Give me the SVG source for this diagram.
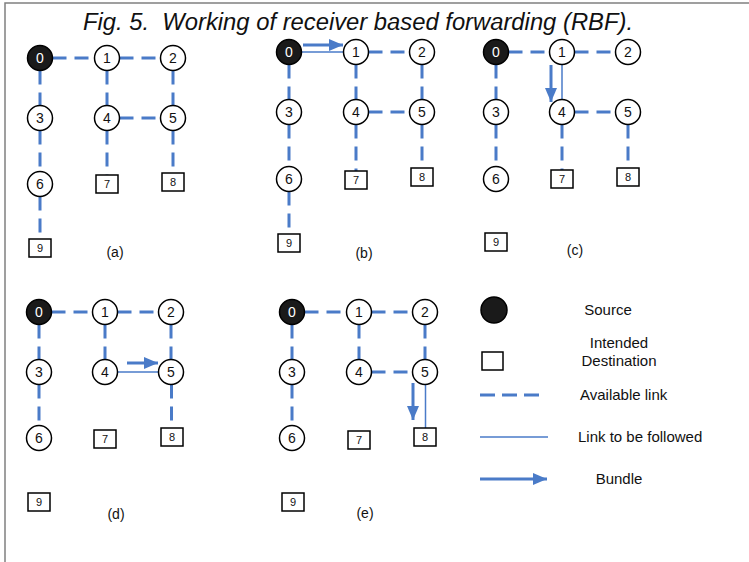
<svg xmlns="http://www.w3.org/2000/svg" width="749" height="562" viewBox="0 0 749 562">
<defs>
<marker id="ah" markerUnits="userSpaceOnUse" markerWidth="14" markerHeight="12" refX="14" refY="6" orient="auto">
<path d="M0,0 L14,6 L0,12 z" fill="#4a7bc8"/>
</marker>
<style>
text{font-family:"Liberation Sans",Arial,sans-serif;fill:#111}
.title{font-size:23px;font-style:italic}
.n circle{fill:#fff;stroke:#000;stroke-width:1.5}
.n text{font-size:14px;text-anchor:middle}
.src circle{fill:#1a1a1a}
.src text{fill:#fff}
.d rect{fill:#fff;stroke:#000;stroke-width:1.5}
.d text{font-size:11px;text-anchor:middle}
.cap{font-size:14px;text-anchor:middle}
.lg{font-size:15px}
.dash{stroke:#4a7bc8;stroke-width:3;stroke-dasharray:14 8;fill:none}
.follow{stroke:#4a7bc8;stroke-width:1.5;fill:none}
.bundle{stroke:#4a7bc8;stroke-width:3;fill:none;marker-end:url(#ah)}
</style>
</defs>
<rect width="749" height="562" fill="#fff"/>
<path d="M5,562 V3 H749" fill="none" stroke="#808080" stroke-width="1.5"/>
<text class="title" x="83" y="30" textLength="550" lengthAdjust="spacingAndGlyphs">Fig. 5.&#160; Working of receiver based forwarding (RBF).</text>

<g id="connectors">
<!-- panel a -->
<line class="dash" x1="52.5" y1="58" x2="94.5" y2="58"/>
<line class="dash" x1="119.5" y1="58" x2="160.5" y2="58"/>
<line class="dash" x1="40" y1="70.5" x2="40" y2="105.5"/>
<line class="dash" x1="40" y1="130.5" x2="40" y2="171.5"/>
<line class="dash" x1="40" y1="196.5" x2="40" y2="239"/>
<line class="dash" x1="107" y1="70.5" x2="107" y2="105.5"/>
<line class="dash" x1="173" y1="70.5" x2="173" y2="105.5"/>
<line class="dash" x1="119.5" y1="118" x2="160.5" y2="118"/>
<line class="dash" x1="107" y1="130.5" x2="107" y2="175"/>
<line class="dash" x1="173" y1="130.5" x2="173" y2="173"/>
<!-- panel b -->
<line class="follow" x1="301.5" y1="52" x2="343.5" y2="52"/>
<line class="bundle" x1="303" y1="45" x2="343" y2="45"/>
<line class="dash" x1="368.5" y1="52" x2="409.5" y2="52"/>
<line class="dash" x1="289" y1="64.5" x2="289" y2="99.5"/>
<line class="dash" x1="289" y1="124.5" x2="289" y2="166.5"/>
<line class="dash" x1="289" y1="191.5" x2="289" y2="234"/>
<line class="dash" x1="356" y1="64.5" x2="356" y2="99.5"/>
<line class="dash" x1="422" y1="64.5" x2="422" y2="99.5"/>
<line class="dash" x1="368.5" y1="112" x2="409.5" y2="112"/>
<line class="dash" x1="356" y1="124.5" x2="356" y2="171"/>
<line class="dash" x1="422" y1="124.5" x2="422" y2="168"/>
<!-- panel c -->
<line class="dash" x1="508.5" y1="52" x2="549.5" y2="52"/>
<line class="dash" x1="574.5" y1="52" x2="615.5" y2="52"/>
<line class="dash" x1="496" y1="64.5" x2="496" y2="99.5"/>
<line class="dash" x1="496" y1="124.5" x2="496" y2="166.5"/>
<line class="follow" x1="562" y1="64.5" x2="562" y2="99.5"/>
<line class="bundle" x1="551" y1="65" x2="551" y2="102"/>
<line class="dash" x1="574.5" y1="112" x2="615.5" y2="112"/>
<line class="dash" x1="562" y1="124.5" x2="562" y2="170"/>
<line class="dash" x1="628" y1="124.5" x2="628" y2="168"/>
<!-- panel d -->
<line class="dash" x1="51.5" y1="312" x2="92.5" y2="312"/>
<line class="dash" x1="117.5" y1="312" x2="158.5" y2="312"/>
<line class="dash" x1="39" y1="324.5" x2="39" y2="359.5"/>
<line class="dash" x1="39" y1="384.5" x2="39" y2="425.5"/>
<line class="dash" x1="105" y1="324.5" x2="105" y2="359.5"/>
<line class="dash" x1="171" y1="324.5" x2="171" y2="359.5"/>
<line class="follow" x1="117.5" y1="372" x2="158.5" y2="372"/>
<line class="bundle" x1="127" y1="363" x2="158" y2="363"/>
<line class="dash" x1="171.5" y1="384.5" x2="171.5" y2="428"/>
<!-- panel e -->
<line class="dash" x1="304.5" y1="312" x2="346.5" y2="312"/>
<line class="dash" x1="371.5" y1="312" x2="412.5" y2="312"/>
<line class="dash" x1="292" y1="324.5" x2="292" y2="359.5"/>
<line class="dash" x1="292" y1="384.5" x2="292" y2="425.5"/>
<line class="dash" x1="359" y1="324.5" x2="359" y2="359.5"/>
<line class="dash" x1="425" y1="324.5" x2="425" y2="359.5"/>
<line class="dash" x1="371.5" y1="372" x2="412.5" y2="372"/>
<line class="follow" x1="425.5" y1="384.5" x2="425.5" y2="428"/>
<line class="bundle" x1="413" y1="383" x2="413" y2="420"/>
</g>

<!-- panel a nodes -->
<g id="a0" class="n src"><circle cx="40" cy="58" r="12.5"/><text x="40" y="63">0</text></g>
<g id="a1" class="n"><circle cx="107" cy="58" r="12.5"/><text x="107" y="63">1</text></g>
<g id="a2" class="n"><circle cx="173" cy="58" r="12.5"/><text x="173" y="63">2</text></g>
<g id="a3" class="n"><circle cx="40" cy="118" r="12.5"/><text x="40" y="123">3</text></g>
<g id="a4" class="n"><circle cx="107" cy="118" r="12.5"/><text x="107" y="123">4</text></g>
<g id="a5" class="n"><circle cx="173" cy="118" r="12.5"/><text x="173" y="123">5</text></g>
<g id="a6" class="n"><circle cx="40" cy="184" r="12.5"/><text x="40" y="189">6</text></g>
<g id="a7" class="d"><rect x="96" y="175" width="22" height="18"/><text x="107" y="188">7</text></g>
<g id="a8" class="d"><rect x="162" y="173" width="22" height="18"/><text x="173" y="186">8</text></g>
<g id="a9" class="d"><rect x="29" y="239" width="22" height="18"/><text x="40" y="252">9</text></g>
<text class="cap" x="115" y="257">(a)</text>

<!-- panel b nodes -->
<g id="b0" class="n src"><circle cx="289" cy="52" r="12.5"/><text x="289" y="57">0</text></g>
<g id="b1" class="n"><circle cx="356" cy="52" r="12.5"/><text x="356" y="57">1</text></g>
<g id="b2" class="n"><circle cx="422" cy="52" r="12.5"/><text x="422" y="57">2</text></g>
<g id="b3" class="n"><circle cx="289" cy="112" r="12.5"/><text x="289" y="117">3</text></g>
<g id="b4" class="n"><circle cx="356" cy="112" r="12.5"/><text x="356" y="117">4</text></g>
<g id="b5" class="n"><circle cx="422" cy="112" r="12.5"/><text x="422" y="117">5</text></g>
<g id="b6" class="n"><circle cx="289" cy="179" r="12.5"/><text x="289" y="184">6</text></g>
<g id="b7" class="d"><rect x="345" y="171" width="22" height="18"/><text x="356" y="184">7</text></g>
<g id="b8" class="d"><rect x="411" y="168" width="22" height="18"/><text x="422" y="181">8</text></g>
<g id="b9" class="d"><rect x="278" y="234" width="22" height="18"/><text x="289" y="247">9</text></g>
<text class="cap" x="364" y="258">(b)</text>

<!-- panel c nodes -->
<g id="c0" class="n src"><circle cx="496" cy="52" r="12.5"/><text x="496" y="57">0</text></g>
<g id="c1" class="n"><circle cx="562" cy="52" r="12.5"/><text x="562" y="57">1</text></g>
<g id="c2" class="n"><circle cx="628" cy="52" r="12.5"/><text x="628" y="57">2</text></g>
<g id="c3" class="n"><circle cx="496" cy="112" r="12.5"/><text x="496" y="117">3</text></g>
<g id="c4" class="n"><circle cx="562" cy="112" r="12.5"/><text x="562" y="117">4</text></g>
<g id="c5" class="n"><circle cx="628" cy="112" r="12.5"/><text x="628" y="117">5</text></g>
<g id="c6" class="n"><circle cx="496" cy="179" r="12.5"/><text x="496" y="184">6</text></g>
<g id="c7" class="d"><rect x="551" y="170" width="22" height="18"/><text x="562" y="183">7</text></g>
<g id="c8" class="d"><rect x="617" y="168" width="22" height="18"/><text x="628" y="181">8</text></g>
<g id="c9" class="d"><rect x="485" y="233" width="22" height="18"/><text x="496" y="246">9</text></g>
<text class="cap" x="575" y="255">(c)</text>

<!-- panel d nodes -->
<g id="d0" class="n src"><circle cx="39" cy="312" r="12.5"/><text x="39" y="317">0</text></g>
<g id="d1" class="n"><circle cx="105" cy="312" r="12.5"/><text x="105" y="317">1</text></g>
<g id="d2" class="n"><circle cx="171" cy="312" r="12.5"/><text x="171" y="317">2</text></g>
<g id="d3" class="n"><circle cx="39" cy="372" r="12.5"/><text x="39" y="377">3</text></g>
<g id="d4" class="n"><circle cx="105" cy="372" r="12.5"/><text x="105" y="377">4</text></g>
<g id="d5" class="n"><circle cx="171" cy="372" r="12.5"/><text x="171" y="377">5</text></g>
<g id="d6" class="n"><circle cx="39" cy="438" r="12.5"/><text x="39" y="443">6</text></g>
<g id="d7" class="d"><rect x="94" y="430" width="22" height="18"/><text x="105" y="443">7</text></g>
<g id="d8" class="d"><rect x="161" y="428" width="22" height="18"/><text x="172" y="441">8</text></g>
<g id="d9" class="d"><rect x="28" y="493" width="22" height="18"/><text x="39" y="506">9</text></g>
<text class="cap" x="116" y="519">(d)</text>

<!-- panel e nodes -->
<g id="e0" class="n src"><circle cx="292" cy="312" r="12.5"/><text x="292" y="317">0</text></g>
<g id="e1" class="n"><circle cx="359" cy="312" r="12.5"/><text x="359" y="317">1</text></g>
<g id="e2" class="n"><circle cx="425" cy="312" r="12.5"/><text x="425" y="317">2</text></g>
<g id="e3" class="n"><circle cx="292" cy="372" r="12.5"/><text x="292" y="377">3</text></g>
<g id="e4" class="n"><circle cx="359" cy="372" r="12.5"/><text x="359" y="377">4</text></g>
<g id="e5" class="n"><circle cx="425" cy="372" r="12.5"/><text x="425" y="377">5</text></g>
<g id="e6" class="n"><circle cx="292" cy="438" r="12.5"/><text x="292" y="443">6</text></g>
<g id="e7" class="d"><rect x="348" y="431" width="22" height="18"/><text x="359" y="444">7</text></g>
<g id="e8" class="d"><rect x="414" y="428" width="22" height="18"/><text x="425" y="441">8</text></g>
<g id="e9" class="d"><rect x="282" y="493" width="22" height="18"/><text x="293" y="506">9</text></g>
<text class="cap" x="365" y="518">(e)</text>

<!-- legend -->
<g id="legend">
<circle cx="494" cy="310" r="13" fill="#1a1a1a" stroke="#000" stroke-width="1.5"/>
<text class="lg" x="608" y="315" text-anchor="middle">Source</text>
<rect x="482" y="352" width="21" height="18" fill="#fff" stroke="#000" stroke-width="1.5"/>
<text class="lg" x="619" y="348" text-anchor="middle">Intended</text>
<text class="lg" x="619" y="366" text-anchor="middle">Destination</text>
<line x1="480" y1="395" x2="540" y2="395" stroke="#4a7bc8" stroke-width="3" stroke-dasharray="15 7"/>
<text class="lg" x="580" y="400">Available link</text>
<line class="follow" x1="480" y1="437" x2="548" y2="437"/>
<text class="lg" x="578" y="442">Link to be followed</text>
<line class="bundle" x1="480" y1="479" x2="547" y2="479"/>
<text class="lg" x="619" y="484" text-anchor="middle">Bundle</text>
</g>
</svg>
